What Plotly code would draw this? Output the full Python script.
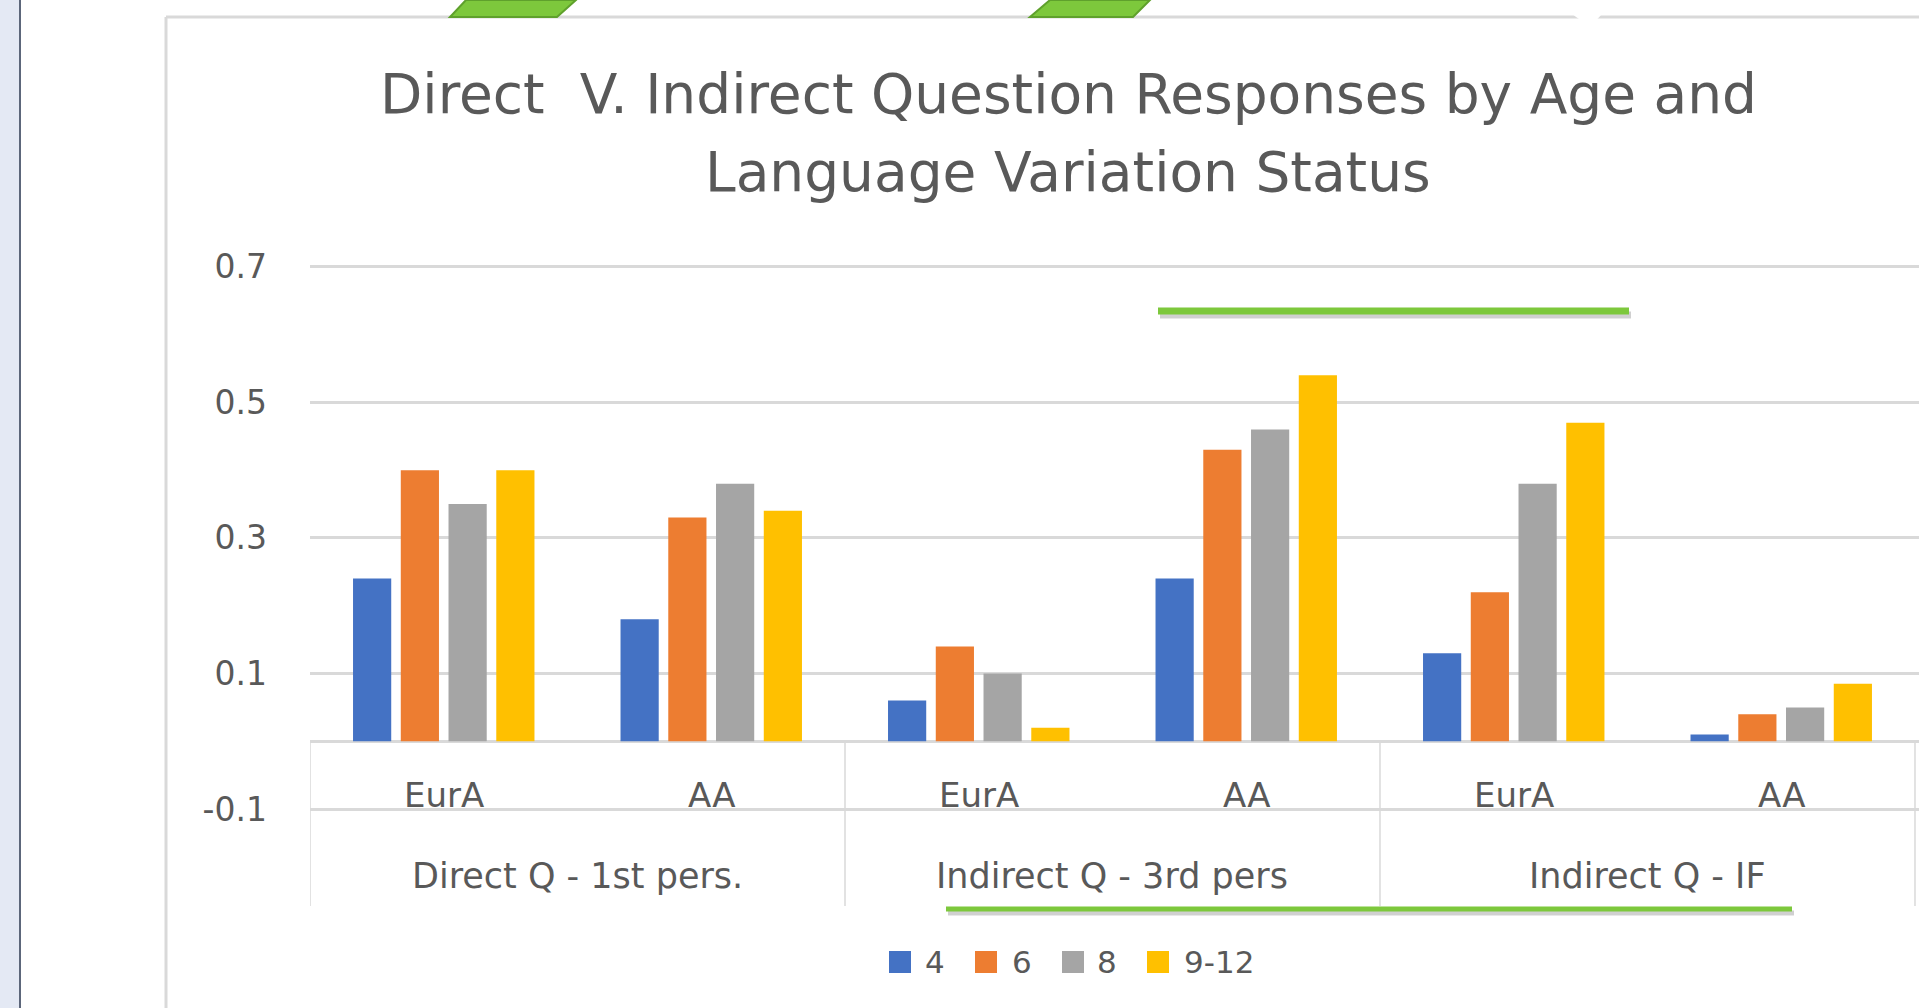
import plotly.graph_objects as go

# values
sub_labels = ["EurA", "AA", "EurA", "AA", "EurA", "AA"]
group_labels = ["Direct Q - 1st pers.", "Indirect Q - 3rd pers", "Indirect Q - IF"]
group_centers = [0.5, 2.5, 4.5]
ages = ["4", "6", "8", "9-12"]
age_4 = [0.24, 0.18, 0.06, 0.24, 0.13, 0.01]
age_6 = [0.40, 0.33, 0.14, 0.43, 0.22, 0.04]
age_8 = [0.35, 0.38, 0.10, 0.46, 0.38, 0.05]
age_9_12 = [0.40, 0.34, 0.02, 0.54, 0.47, 0.085]
y_ticks = [-0.1, 0.1, 0.3, 0.5, 0.7]
y_tick_text = ["-0.1", "0.1", "0.3", "0.5", "0.7"]
title_lines = ["Direct\u00a0 V. Indirect Question Responses by Age and", "Language Variation Status"]

office_colors = ["#4472C4", "#ED7D31", "#A5A5A5", "#FFC000"]
grey_text = "#595959"
grid = "#D9D9D9"
green = "#7DC83C"
font = "DejaVu Sans"

W, H = 1919, 1008
ML, MR, MT, MB = 310, 0, 260, 102
PW, PH = W - ML - MR, H - MT - MB


def px(x):
    return (x - ML) / PW


def py(y):
    return (H - MB - y) / PH


x = list(range(len(sub_labels)))
fig = go.Figure()
for name, vals, col in zip(ages, [age_4, age_6, age_8, age_9_12], office_colors):
    fig.add_trace(go.Bar(x=x, y=vals, name=name, marker=dict(color=col, line_width=0)))

fig.update_layout(
    width=W, height=H,
    margin=dict(l=ML, r=MR, t=MT, b=MB, pad=0),
    paper_bgcolor="white", plot_bgcolor="white",
    barmode="group", bargap=0.286, bargroupgap=0.2,
    font=dict(family=font, color=grey_text),
    showlegend=False,
)

fig.update_xaxes(range=[-0.5, 5.515], showticklabels=False, showgrid=False,
                 zeroline=False, showline=False, ticks="", fixedrange=True)
fig.update_yaxes(range=[-0.243, 0.71], tickvals=y_ticks, ticktext=y_tick_text,
                 tickfont=dict(size=33, color=grey_text), ticklabelstandoff=42,
                 showgrid=True, gridcolor=grid, gridwidth=2.5,
                 zeroline=True, zerolinecolor=grid, zerolinewidth=2.5,
                 showline=False, ticks="")

# category labels (two levels)
for xi, lab in zip(x, sub_labels):
    fig.add_annotation(x=xi, y=py(795), xref="x", yref="paper", text=lab, showarrow=False,
                       font=dict(size=34, color=grey_text), yanchor="middle")
for xc, lab in zip(group_centers, group_labels):
    fig.add_annotation(x=xc, y=py(876), xref="x", yref="paper", text=lab, showarrow=False,
                       font=dict(size=35, color=grey_text), yanchor="middle")

# category dividers below the baseline
for xd in [-0.5, 1.5, 3.5, 5.5]:
    fig.add_shape(type="line", xref="x", yref="y", x0=xd, x1=xd, y0=0, y1=-0.243,
                  line=dict(color=grid, width=1.5))

# title
for txt, yy in zip(title_lines, [94, 172]):
    fig.add_annotation(x=px(1068), y=py(yy), xref="paper", yref="paper", text=txt,
                       showarrow=False, font=dict(size=55, color=grey_text), yanchor="middle")

# legend, Excel style with large swatches
legend_swatch_x = [889, 975, 1062, 1147]
legend_text_x = [923, 1010, 1095, 1182]
for name, col, sx, tx in zip(ages, office_colors, legend_swatch_x, legend_text_x):
    fig.add_shape(type="rect", xref="paper", yref="paper", x0=px(sx), x1=px(sx + 22),
                  y0=py(973), y1=py(951), fillcolor=col, line_width=0)
    fig.add_annotation(x=px(tx), y=py(962), xref="paper", yref="paper", text=name,
                       showarrow=False, xanchor="left", yanchor="middle",
                       font=dict(size=31, color=grey_text))

# chart box and page decorations
fig.add_shape(type="rect", xref="paper", yref="paper", x0=px(0), x1=px(19), y0=py(H), y1=py(0),
              fillcolor="#E4E9F4", line_width=0, layer="below")
fig.add_shape(type="line", xref="paper", yref="paper", x0=px(20), x1=px(20), y0=py(H), y1=py(0),
              line=dict(color="#5C667A", width=2))
fig.add_shape(type="line", xref="paper", yref="paper", x0=px(166), x1=px(166), y0=py(H), y1=py(17),
              line=dict(color=grid, width=3))
fig.add_shape(type="line", xref="paper", yref="paper", x0=px(166), x1=px(W), y0=py(17), y1=py(17),
              line=dict(color=grid, width=3))
fig.add_shape(type="path", xref="paper", yref="paper",
              path=f"M {px(1572)},{py(14)} L {px(1602)},{py(14)} L {px(1590)},{py(27)} Z",
              fillcolor="white", line_width=0)

for pts in [[(466, 0), (576, 0), (557, 17), (450, 17)], [(1050, 0), (1150, 0), (1133, 17), (1030, 17)]]:
    path = "M " + " L ".join(f"{px(a)},{py(b)}" for a, b in pts) + " Z"
    fig.add_shape(type="path", xref="paper", yref="paper", path=path,
                  fillcolor=green, line=dict(color="#5FA12C", width=2))

for x0, x1, yy, w in [(1158, 1629, 311, 7), (946, 1792, 909, 5)]:
    fig.add_shape(type="line", xref="paper", yref="paper", x0=px(x0 + 2), x1=px(x1 + 2),
                  y0=py(yy + 4), y1=py(yy + 4), line=dict(color="rgba(120,120,120,0.35)", width=w))
    fig.add_shape(type="line", xref="paper", yref="paper", x0=px(x0), x1=px(x1),
                  y0=py(yy), y1=py(yy), line=dict(color=green, width=w))

# page body has a default 8px margin; drop it so the figure sits at the window corner
fig.write_html("out.html", config={"displayModeBar": False},
               post_script="document.body.style.margin='0';")
